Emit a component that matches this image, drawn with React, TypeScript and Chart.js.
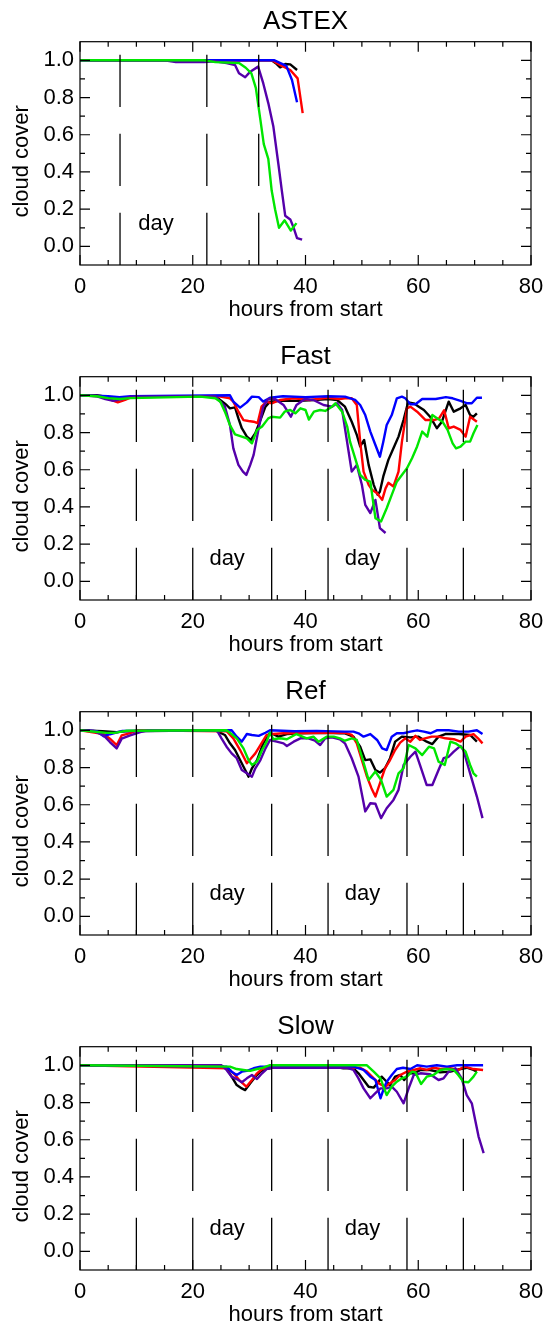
import React, { useEffect, useRef } from 'react';
import { Chart, registerables } from 'chart.js';

Chart.register(...registerables);

// ---------------- axis / tick labels ----------------
const xMajorTicks = [0, 20, 40, 60, 80];
const xMinorTicks = [5, 10, 15, 25, 30, 35, 45, 50, 55, 65, 70, 75];
const yMajorTicks = [0, 0.2, 0.4, 0.6, 0.8, 1.0];
const yMinorTicks = [0.1, 0.3, 0.5, 0.7, 0.9];

// ---------------- day / night markers ----------------
const astexDayLines = [7.1, 22.5, 31.7];
const astexDayLabels = [13.5];
const longDayLines = [10, 20, 34, 44, 58, 68];
const longDayLabels = [26.1, 50.1];

// ---------------- ASTEX ----------------
const astexBlackH = [0, 34, 34.9, 35.5, 36.4, 37.3, 38.5];
const astexBlackV = [1, 1, 0.98, 0.962, 0.98, 0.978, 0.948];
const astexRedH = [0, 34, 35.8, 37.3, 38.6, 39.5];
const astexRedV = [1, 1, 0.97, 0.948, 0.903, 0.716];
const astexBlueH = [0, 34.5, 36.6, 37.6, 38.5];
const astexBlueV = [1, 1, 0.97, 0.894, 0.775];
const astexPurpleH = [0, 15, 17, 22, 24, 26, 27.5, 28.2, 29.3, 30.2, 31.6, 32.5, 33.4, 34.3, 35.2, 35.8, 36.4, 37.3, 37.9, 38.5, 39.4];
const astexPurpleV = [1, 1, 0.99, 0.99, 0.995, 0.985, 0.975, 0.93, 0.909, 0.939, 0.966, 0.877, 0.77, 0.644, 0.44, 0.3, 0.165, 0.145, 0.1, 0.045, 0.036];
const astexGreenH = [0, 22, 24, 28.2, 29.4, 30.4, 31.2, 32.0, 32.6, 33.4, 34.0, 34.6, 35.3, 36.3, 37.4, 38.4];
const astexGreenV = [1, 1, 0.99, 0.985, 0.96, 0.93, 0.85, 0.68, 0.55, 0.47, 0.3, 0.2, 0.1, 0.14, 0.085, 0.125];

// ---------------- Fast ----------------
const fastBlackH = [0, 3, 5, 7, 9, 24, 26, 26.6, 27.5, 28.1, 28.7, 29.6, 30.3, 31.1, 32, 32.9, 33.7, 35.5, 39, 41.4, 44.1, 45.6, 47.0, 48.2, 49.1, 49.7, 50.4, 51.2, 52.1, 52.8, 53.2, 53.8, 54.7, 55.6, 56.5, 57.4, 58.2, 59.2, 60.1, 61, 62.1, 63.3, 64.2, 65.4, 66.3, 67.5, 68.4, 69.2, 69.8, 70.4];
const fastBlackV = [1, 1, 0.99, 0.985, 0.99, 0.995, 0.948, 0.93, 0.935, 0.876, 0.823, 0.778, 0.76, 0.796, 0.867, 0.939, 0.966, 0.97, 0.97, 0.975, 0.98, 0.975, 0.939, 0.858, 0.787, 0.725, 0.76, 0.626, 0.519, 0.465, 0.483, 0.564, 0.653, 0.715, 0.778, 0.868, 0.962, 0.957, 0.939, 0.921, 0.885, 0.823, 0.858, 0.966, 0.912, 0.93, 0.948, 0.894, 0.885, 0.903];
const fastRedH = [0, 4, 5.5, 6.7, 8, 9.5, 24.9, 26.6, 27.2, 28.1, 29, 29.9, 30.8, 31.5, 32.2, 33.1, 34, 35.5, 37.9, 40.8, 43.8, 46.1, 47, 48.2, 49.1, 49.7, 50.3, 51.2, 51.8, 52.7, 53.6, 54.2, 54.7, 55.6, 56.5, 57.1, 58, 58.6, 59.8, 61.3, 62.8, 63.7, 64.6, 65.4, 66.3, 67.5, 68.4, 69.2, 70.4];
const fastRedV = [1, 0.995, 0.975, 0.962, 0.975, 0.995, 0.993, 0.984, 0.966, 0.912, 0.867, 0.862, 0.858, 0.85, 0.939, 0.966, 0.957, 0.975, 0.984, 0.975, 0.987, 0.98, 0.984, 0.984, 0.948, 0.751, 0.59, 0.519, 0.492, 0.474, 0.438, 0.5, 0.53, 0.51, 0.59, 0.75, 0.93, 0.939, 0.912, 0.867, 0.867, 0.876, 0.92, 0.823, 0.832, 0.814, 0.778, 0.885, 0.858];
const fastBlueH = [0, 5, 7, 9, 26.6, 27.2, 28.4, 29.6, 30.5, 31.7, 32.5, 33.7, 36, 40, 44, 47, 48.8, 49.7, 50.6, 51.5, 52.4, 53.2, 53.8, 54.4, 55.3, 56.2, 57.1, 57.7, 58.6, 59.5, 60.7, 63.1, 64.9, 66.1, 67.5, 68.7, 69.5, 70.4, 71.3];
const fastBlueV = [1, 0.995, 0.99, 0.995, 1, 0.966, 0.934, 0.962, 0.993, 0.99, 0.966, 0.987, 0.995, 0.99, 0.995, 0.993, 0.975, 0.948, 0.894, 0.805, 0.733, 0.67, 0.751, 0.84, 0.894, 0.984, 0.993, 0.984, 0.952, 0.952, 0.98, 0.98, 0.99, 0.984, 0.97, 0.957, 0.957, 0.987, 0.987];
const fastPurpleH = [0, 3, 4.5, 5.9, 7.5, 9, 24, 25.7, 26.6, 27.2, 28.1, 28.9, 29.5, 30.2, 30.8, 31.7, 32.5, 33.4, 34.6, 36.1, 37.4, 38.4, 39.9, 41.4, 43.2, 44.7, 45.6, 46.5, 47.0, 48.2, 49.1, 50.0, 50.6, 51.5, 52.4, 53.2, 54.2];
const fastPurpleV = [1, 0.995, 0.98, 0.971, 0.98, 0.993, 0.995, 0.939, 0.84, 0.715, 0.626, 0.59, 0.572, 0.626, 0.68, 0.823, 0.939, 0.98, 0.98, 0.948, 0.885, 0.948, 0.98, 0.975, 0.948, 0.939, 0.957, 0.921, 0.823, 0.59, 0.626, 0.519, 0.411, 0.367, 0.438, 0.286, 0.26];
const fastGreenH = [0, 3, 5, 7, 9, 21.3, 24, 24.9, 25.7, 26.6, 27.5, 28.7, 29.6, 30.5, 31.4, 32.3, 33.4, 34, 35.5, 36.3, 37.3, 38.2, 39.1, 40, 40.6, 41.5, 42.6, 43.5, 44.7, 45.3, 46.5, 47.4, 47.9, 48.8, 49.7, 50.6, 51.5, 52.4, 53.4, 54.4, 55.3, 56.2, 57.1, 58, 58.9, 59.8, 60.7, 61.6, 62.5, 63.4, 64.3, 65.2, 66.1, 66.7, 67.5, 68.4, 69.2, 69.8, 70.5];
const fastGreenV = [1, 0.995, 0.985, 0.98, 0.985, 0.993, 0.984, 0.966, 0.912, 0.84, 0.79, 0.778, 0.769, 0.742, 0.814, 0.832, 0.876, 0.885, 0.88, 0.912, 0.921, 0.903, 0.93, 0.921, 0.87, 0.912, 0.921, 0.916, 0.939, 0.957, 0.912, 0.832, 0.751, 0.662, 0.572, 0.545, 0.536, 0.34, 0.322, 0.393, 0.465, 0.536, 0.572, 0.608, 0.662, 0.725, 0.805, 0.778, 0.894, 0.876, 0.858, 0.814, 0.742, 0.715, 0.724, 0.751, 0.751, 0.796, 0.84];

// ---------------- Ref ----------------
const refBlackH = [0, 4, 6.5, 8, 24, 25.7, 26.6, 27.5, 28.4, 29.3, 29.9, 30.5, 31.4, 32.5, 33.7, 35.2, 36.7, 39.1, 43.8, 46.1, 47, 48.5, 49.7, 50.6, 51.5, 52.4, 53.2, 54.1, 55, 55.9, 57.1, 58.6, 60, 61.5, 62.5, 63.6, 64.8, 67.2, 69.2, 70.4];
const refBlackV = [1, 0.995, 0.99, 0.995, 1, 0.975, 0.93, 0.894, 0.84, 0.787, 0.751, 0.796, 0.84, 0.93, 0.987, 0.966, 0.98, 0.984, 0.987, 0.984, 0.984, 0.966, 0.912, 0.84, 0.844, 0.787, 0.773, 0.796, 0.85, 0.939, 0.966, 0.962, 0.966, 0.939, 0.926, 0.966, 0.98, 0.98, 0.975, 0.939];
const refRedH = [0, 4.2, 5.3, 6.5, 7.4, 8.9, 10, 26, 27.2, 28.4, 29.6, 30.2, 31.1, 32, 33.1, 34.3, 36.1, 40, 44, 47, 48.2, 49.1, 50, 50.9, 51.7, 52.4, 53.2, 54.1, 55, 55.9, 56.8, 57.7, 58.6, 59.5, 60.3, 61.2, 62.4, 63.6, 64.8, 66.3, 67.5, 68.4, 69.8, 70.6, 71.4];
const refRedV = [1, 0.98, 0.955, 0.92, 0.973, 0.985, 1, 0.995, 0.957, 0.894, 0.823, 0.844, 0.876, 0.921, 0.975, 0.98, 0.984, 0.985, 0.987, 0.987, 0.975, 0.93, 0.84, 0.751, 0.689, 0.644, 0.715, 0.796, 0.84, 0.894, 0.934, 0.957, 0.939, 0.97, 0.948, 0.957, 0.966, 0.966, 0.957, 0.952, 0.939, 0.966, 0.98, 0.957, 0.93];
const refBlueH = [0, 3, 4.2, 5.3, 7.4, 26.9, 27.8, 28.7, 29.6, 30.5, 31.7, 32.9, 33.7, 38, 42, 47, 48.5, 49.4, 50.3, 51.5, 52.7, 53.6, 54.4, 55.3, 56.2, 57.4, 58.6, 59.8, 61, 62.2, 63.3, 65.4, 67.2, 68.9, 70.4, 71.4];
const refBlueV = [1, 0.995, 0.968, 0.979, 0.996, 1, 0.966, 0.939, 0.98, 0.975, 0.97, 0.987, 1, 0.995, 0.997, 0.993, 0.993, 0.984, 0.966, 0.98, 0.948, 0.903, 0.894, 0.966, 0.984, 0.984, 0.993, 1, 0.993, 0.984, 1, 1, 0.993, 0.993, 1, 0.98];
const refPurpleH = [0, 2.4, 4.2, 5.3, 6.5, 7.4, 8.9, 10.7, 12, 24.3, 25.1, 26, 26.9, 27.8, 28.7, 29.6, 30.5, 31.1, 32, 32.9, 33.7, 34.9, 36.1, 36.7, 37.9, 39.1, 40.5, 41.7, 42.6, 43.5, 44.7, 46.1, 47, 48.2, 49.4, 50.6, 51.5, 52.4, 53.4, 54.4, 55.6, 56.5, 57.4, 58.6, 59.5, 60.3, 61.5, 62.5, 63.6, 64.5, 65.4, 66.3, 67.5, 68, 69.2, 70.4, 71.4];
const refPurpleV = [1, 0.997, 0.973, 0.937, 0.903, 0.955, 0.973, 0.99, 1, 1, 0.957, 0.912, 0.876, 0.85, 0.787, 0.769, 0.751, 0.796, 0.84, 0.903, 0.948, 0.939, 0.93, 0.916, 0.939, 0.957, 0.957, 0.944, 0.921, 0.957, 0.962, 0.952, 0.93, 0.85, 0.751, 0.564, 0.608, 0.605, 0.528, 0.581, 0.626, 0.68, 0.814, 0.858, 0.885, 0.814, 0.706, 0.706, 0.787, 0.85, 0.858, 0.885, 0.916, 0.894, 0.769, 0.644, 0.528];
const refGreenH = [0, 4.7, 6.2, 8.3, 26, 26.6, 27.8, 29, 29.9, 30.5, 31.4, 32.3, 33.1, 33.7, 34.3, 35.5, 36.7, 38.4, 40.2, 41.4, 42.3, 43.8, 45, 46.1, 47, 48.2, 49.1, 50, 51.2, 52.4, 53.4, 54.4, 55.6, 56.5, 57.4, 58.3, 59.5, 60.7, 61.9, 62.8, 63.6, 64.7, 65.7, 66.6, 67.5, 68.4, 69.2, 69.8, 70.4];
const refGreenV = [1, 0.986, 0.986, 0.998, 1, 0.987, 0.957, 0.903, 0.84, 0.814, 0.832, 0.894, 0.939, 0.987, 0.952, 0.957, 0.952, 0.98, 0.957, 0.966, 0.939, 0.966, 0.966, 0.957, 0.944, 0.957, 0.948, 0.858, 0.733, 0.778, 0.733, 0.644, 0.68, 0.769, 0.796, 0.921, 0.903, 0.867, 0.912, 0.903, 0.832, 0.814, 0.939, 0.93, 0.912, 0.885, 0.814, 0.769, 0.751];

// ---------------- Slow ----------------
const slowBlackH = [0, 5, 10, 24.9, 26, 26.9, 27.8, 28.7, 29.3, 30.2, 31.1, 32, 32.9, 33.7, 35, 45, 46.7, 48.5, 49.4, 50.3, 51.2, 52.1, 53, 53.5, 54.1, 55, 55.9, 56.8, 57.5, 58.3, 59.2, 60.4, 62.1, 63.9, 65.7, 67.5, 68.6, 69.8, 70.4];
const slowBlackV = [1, 0.998, 0.998, 1, 0.984, 0.939, 0.894, 0.876, 0.867, 0.903, 0.939, 0.966, 0.98, 0.984, 0.993, 0.993, 0.984, 0.984, 0.957, 0.921, 0.885, 0.88, 0.912, 0.939, 0.921, 0.894, 0.939, 0.948, 0.921, 0.957, 0.957, 0.975, 0.975, 0.962, 0.966, 0.98, 0.987, 0.975, 0.966];
const slowRedH = [0, 26.3, 27.5, 28.4, 29.5, 30.5, 31.4, 32.3, 33.5, 49.7, 50.9, 52.1, 53, 54.1, 55, 55.9, 56.8, 58, 59.2, 60.4, 61.5, 62.7, 63.9, 65.7, 67.1, 68.3, 69.8, 71.5];
const slowRedV = [1, 0.984, 0.948, 0.916, 0.885, 0.921, 0.957, 0.98, 0.987, 0.987, 0.966, 0.93, 0.903, 0.885, 0.903, 0.921, 0.948, 0.966, 0.975, 0.984, 0.975, 0.987, 0.98, 0.984, 0.975, 0.993, 0.98, 0.975];
const slowBlueH = [0, 26, 26.9, 27.8, 28.7, 29.6, 30.8, 32, 48.5, 50.3, 51.5, 52.4, 53.3, 53.9, 54.4, 55.3, 56.2, 57.3, 58.6, 59.8, 61.5, 63.3, 65.1, 66.9, 68.6, 71.5];
const slowBlueV = [1, 0.993, 0.966, 0.948, 0.966, 0.97, 0.984, 0.993, 0.993, 0.975, 0.939, 0.921, 0.823, 0.876, 0.912, 0.948, 0.98, 0.987, 0.98, 1, 0.993, 1, 0.993, 1, 1, 1];
const slowPurpleH = [0, 25.1, 26, 26.9, 27.8, 28.7, 29.6, 30.5, 31.4, 32.3, 33.1, 34, 47.3, 48.5, 49.4, 50.3, 51.5, 52.4, 53.3, 54.4, 55.3, 56.2, 57.4, 58.3, 59.2, 60.4, 62.1, 63.6, 64.5, 65.4, 66.6, 67.7, 68.6, 69.5, 70.1, 70.7, 71.6];
const slowPurpleV = [1, 1, 0.975, 0.939, 0.926, 0.909, 0.93, 0.948, 0.926, 0.957, 0.98, 0.987, 0.987, 0.975, 0.93, 0.876, 0.823, 0.85, 0.876, 0.876, 0.885, 0.858, 0.796, 0.876, 0.948, 0.957, 0.952, 0.921, 0.93, 0.966, 0.984, 0.93, 0.84, 0.796, 0.706, 0.617, 0.528];
const slowGreenH = [0, 26.6, 27.8, 29, 30.2, 31.4, 32.5, 33.6, 47.3, 50.9, 52.1, 53.3, 54.4, 55.3, 56.2, 57.1, 58, 58.9, 59.5, 60.5, 61.5, 62.7, 63.9, 65.1, 66.3, 67.1, 68, 68.9, 69.8, 70.4];
const slowGreenV = [1, 0.993, 0.98, 0.975, 0.97, 0.98, 0.987, 1, 1, 1, 0.966, 0.93, 0.84, 0.885, 0.912, 0.93, 0.939, 0.966, 0.962, 0.9, 0.939, 0.948, 0.975, 0.98, 0.975, 0.948, 0.912, 0.909, 0.939, 0.966];

// ---------------- styling ----------------
const COLORS = {
  black: '#000000',
  red: '#ff0000',
  blue: '#0000ff',
  purple: '#5500aa',
  green: '#00e600',
};
const FONT = "'Liberation Sans', Arial, Helvetica, sans-serif";
const W = 545;
const PANEL_H = 335;

type Series = { color: string; h: number[]; v: number[] };
type PanelDef = {
  title: string;
  top: number;
  series: Series[];
  dayLines: number[];
  dayLabels: number[];
};

const mk = (color: string, h: number[], v: number[]): Series => ({ color, h, v });

// order: first listed is drawn on top
const PANELS: PanelDef[] = [
  {
    title: 'ASTEX', top: 0, dayLines: astexDayLines, dayLabels: astexDayLabels,
    series: [
      mk(COLORS.green, astexGreenH, astexGreenV),
      mk(COLORS.purple, astexPurpleH, astexPurpleV),
      mk(COLORS.blue, astexBlueH, astexBlueV),
      mk(COLORS.red, astexRedH, astexRedV),
      mk(COLORS.black, astexBlackH, astexBlackV),
    ],
  },
  {
    title: 'Fast', top: 335, dayLines: longDayLines, dayLabels: longDayLabels,
    series: [
      mk(COLORS.green, fastGreenH, fastGreenV),
      mk(COLORS.purple, fastPurpleH, fastPurpleV),
      mk(COLORS.blue, fastBlueH, fastBlueV),
      mk(COLORS.red, fastRedH, fastRedV),
      mk(COLORS.black, fastBlackH, fastBlackV),
    ],
  },
  {
    title: 'Ref', top: 670, dayLines: longDayLines, dayLabels: longDayLabels,
    series: [
      mk(COLORS.green, refGreenH, refGreenV),
      mk(COLORS.purple, refPurpleH, refPurpleV),
      mk(COLORS.blue, refBlueH, refBlueV),
      mk(COLORS.red, refRedH, refRedV),
      mk(COLORS.black, refBlackH, refBlackV),
    ],
  },
  {
    title: 'Slow', top: 1005, dayLines: longDayLines, dayLabels: longDayLabels,
    series: [
      mk(COLORS.green, slowGreenH, slowGreenV),
      mk(COLORS.purple, slowPurpleH, slowPurpleV),
      mk(COLORS.blue, slowBlueH, slowBlueV),
      mk(COLORS.red, slowRedH, slowRedV),
      mk(COLORS.black, slowBlackH, slowBlackV),
    ],
  },
];

const Y_MIN = -0.1;
const Y_MAX = 1.1;

function makeDecor(dayLabels: number[]) {
  return {
    id: 'decor',
    afterDatasetsDraw(chart: any) {
      const { ctx, chartArea: ca, scales } = chart;
      const xs = scales.x;
      const ys = scales.y;
      ctx.save();
      ctx.strokeStyle = '#000';
      ctx.lineWidth = 1.2;
      // box
      ctx.strokeRect(ca.left, ca.top, ca.right - ca.left, ca.bottom - ca.top);
      // ticks
      ctx.beginPath();
      const tickX = (vals: number[], len: number) => {
        vals.forEach((v) => {
          const px = xs.getPixelForValue(v);
          ctx.moveTo(px, ca.bottom);
          ctx.lineTo(px, ca.bottom - len);
          ctx.moveTo(px, ca.top);
          ctx.lineTo(px, ca.top + len);
        });
      };
      const tickY = (vals: number[], len: number) => {
        vals.forEach((v) => {
          const py = ys.getPixelForValue(v);
          ctx.moveTo(ca.left, py);
          ctx.lineTo(ca.left + len, py);
          ctx.moveTo(ca.right, py);
          ctx.lineTo(ca.right - len, py);
        });
      };
      tickX(xMajorTicks, 10);
      tickX(xMinorTicks, 5);
      tickY(yMajorTicks, 10);
      tickY(yMinorTicks, 5);
      ctx.stroke();
      // "day" labels
      ctx.fillStyle = '#000';
      ctx.font = `22px ${FONT}`;
      ctx.textAlign = 'center';
      ctx.textBaseline = 'alphabetic';
      dayLabels.forEach((h) => {
        ctx.fillText('day', xs.getPixelForValue(h), ys.getPixelForValue(0.09));
      });
      // y axis title
      ctx.translate(28, (ca.top + ca.bottom) / 2 + 8);
      ctx.rotate(-Math.PI / 2);
      ctx.fillText('cloud cover', 0, 0);
      ctx.restore();
    },
  };
}

function Panel({ def }: { def: PanelDef }) {
  const ref = useRef<HTMLCanvasElement>(null);
  useEffect(() => {
    if (!ref.current) return;
    const dayDatasets = def.dayLines.map((h) => ({
      label: 'day boundary',
      data: [{ x: h, y: Y_MIN }, { x: h, y: Y_MAX }],
      borderColor: '#000',
      borderWidth: 1.3,
      borderDash: [52.3, 26.7],
      pointRadius: 0,
      fill: false,
    }));
    const seriesDatasets = def.series.map((s) => ({
      label: s.color,
      data: s.h.map((h, i) => ({ x: h, y: s.v[i] })),
      borderColor: s.color,
      borderWidth: 2.4,
      pointRadius: 0,
      tension: 0,
      fill: false,
      borderJoinStyle: 'round' as const,
    }));
    const chart = new Chart(ref.current, {
      type: 'line',
      data: { datasets: [...dayDatasets, ...seriesDatasets] as any },
      options: {
        animation: false,
        responsive: false,
        devicePixelRatio: 1,
        layout: { padding: { left: 0, right: 14, top: 0, bottom: 0 } },
        plugins: {
          legend: { display: false },
          tooltip: { enabled: false },
          title: {
            display: true,
            text: def.title,
            color: '#000',
            fullSize: false,
            font: { family: FONT, size: 26, weight: 'normal', lineHeight: 1 },
            padding: { top: 9, bottom: 6.7 },
          },
        },
        scales: {
          x: {
            type: 'linear',
            min: 0,
            max: 80,
            afterBuildTicks: (s: any) => {
              s.ticks = xMajorTicks.map((v) => ({ value: v }));
            },
            afterFit: (s: any) => {
              s.height = 70;
              s.paddingLeft = 0;
              s.paddingRight = 0;
            },
            ticks: {
              color: '#000',
              autoSkip: false,
              maxRotation: 0,
              padding: 11,
              font: { family: FONT, size: 22, lineHeight: 1 },
            },
            grid: { display: false, drawTicks: false },
            border: { display: false },
            title: {
              display: true,
              text: 'hours from start',
              color: '#000',
              font: { family: FONT, size: 22, lineHeight: 1 },
              padding: { top: 0, bottom: 14 },
            },
          },
          y: {
            type: 'linear',
            min: Y_MIN,
            max: Y_MAX,
            afterBuildTicks: (s: any) => {
              s.ticks = yMajorTicks.map((v) => ({ value: v }));
            },
            afterFit: (s: any) => {
              s.width = 80;
              s.paddingTop = 0;
              s.paddingBottom = 0;
            },
            ticks: {
              color: '#000',
              autoSkip: false,
              padding: 6,
              font: { family: FONT, size: 22, lineHeight: 1 },
              callback: (v: any) => Number(v).toFixed(1),
            },
            grid: { display: false, drawTicks: false },
            border: { display: false },
          },
        },
      } as any,
      plugins: [makeDecor(def.dayLabels)],
    });
    return () => chart.destroy();
  }, [def]);
  return (
    <canvas
      ref={ref}
      width={W}
      height={PANEL_H}
      style={{ position: 'absolute', left: 0, top: def.top, width: W, height: PANEL_H }}
    />
  );
}

export default function App() {
  useEffect(() => {
    document.body.style.margin = '0';
    document.body.style.overflow = 'hidden';
    document.body.style.background = '#fff';
  }, []);
  return (
    <div style={{ position: 'relative', width: W, height: 1329, overflow: 'hidden', background: '#fff' }}>
      {PANELS.map((p) => (
        <Panel key={p.title} def={p} />
      ))}
    </div>
  );
}
